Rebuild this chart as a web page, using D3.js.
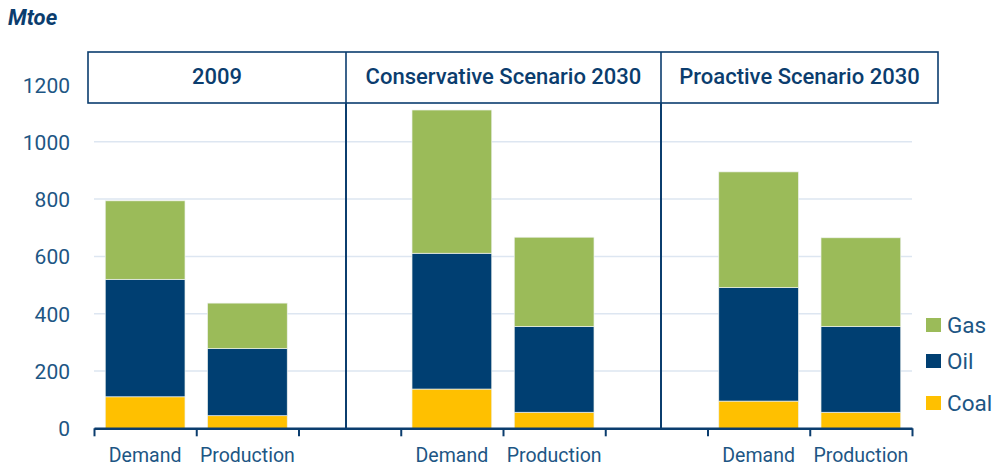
<!DOCTYPE html>
<html><head><meta charset="utf-8">
<script src="https://cdn.jsdelivr.net/npm/d3@7"></script>
<style>body{margin:0;background:#fff;} svg{display:block;font-family:Roboto, sans-serif;}</style>
</head><body><svg id="c" width="1005" height="467"></svg>
<script>
const categories = ["Demand", "Production", "", "Demand", "Production", "", "Demand", "Production"];
const groups = ["2009", "Conservative Scenario 2030", "Proactive Scenario 2030"];
const seriesNames = ["Coal", "Oil", "Gas"];
const coal = [110, 44, null, 137, 56, null, 95, 56];
const oil  = [410, 234, null, 474, 299, null, 396, 299];
const gas  = [274, 159, null, 500, 312, null, 404, 310];
const yTicks = [0, 200, 400, 600, 800, 1000, 1200];
const colors = {Coal: "#ffc000", Oil: "#003f72", Gas: "#9bbb59"};

const svg = d3.select("#c");
const y0 = 428.3, yTop = 84.5;
const y = d3.scaleLinear().domain([0, 1200]).range([y0, yTop]);
const keys = categories.map((c, i) => i);
const x = d3.scaleBand().domain(keys).range([94, 912]).paddingInner(0.22).paddingOuter(0.11);
const xl = d3.scaleLinear().domain([0, categories.length]).range([94, 912]);

const textCol = "#1d5684";
const navy = "#0b3d6e";

// gridlines
svg.append("g").selectAll("line").data(yTicks.filter(v => v > 0)).join("line")
  .attr("x1", 94).attr("x2", 912).attr("y1", d => y(d)).attr("y2", d => y(d))
  .attr("stroke", "#dde6f1").attr("stroke-width", 1.5);

// y labels
svg.append("g").selectAll("text").data(yTicks).join("text")
  .attr("x", 70).attr("y", d => y(d) + 8).attr("text-anchor", "end")
  .attr("font-size", 21).attr("fill", textCol).text(d => d);

// stacked bars
const rows = keys.map(i => ({i, Coal: coal[i] || 0, Oil: oil[i] || 0, Gas: gas[i] || 0}));
const stack = d3.stack().keys(seriesNames)(rows);
svg.append("g").selectAll("g").data(stack).join("g").attr("fill", d => colors[d.key])
  .selectAll("rect").data(d => d.filter(p => p[1] > p[0])).join("rect")
  .attr("x", d => x(d.data.i)).attr("width", x.bandwidth())
  .attr("y", d => y(d[1])).attr("height", d => y(d[0]) - y(d[1]))
  .attr("stroke", "#eef2ee").attr("stroke-width", 0.7);

// dividers
[346, 661].forEach(px => svg.append("line").attr("x1", px).attr("x2", px).attr("y1", 103).attr("y2", y0)
  .attr("stroke", navy).attr("stroke-width", 2));

// x axis
const ax = svg.append("g").attr("transform", `translate(0,${y0})`)
  .call(d3.axisBottom(xl).tickValues(d3.range(categories.length + 1)).tickFormat("").tickSize(8).tickSizeOuter(0));
ax.select(".domain").attr("stroke", navy).attr("stroke-width", 2.5);
ax.selectAll(".tick line").attr("stroke", navy).attr("stroke-width", 2);

svg.append("g").selectAll("text").data(keys).join("text")
  .attr("x", i => x(i) + x.bandwidth() / 2).attr("y", 462).attr("text-anchor", "middle")
  .attr("font-size", 19.5).attr("fill", textCol).text(i => categories[i]);

// header box
const hb = [88, 346, 661, 938];
svg.append("rect").attr("x", hb[0]).attr("y", 52).attr("width", hb[3] - hb[0]).attr("height", 51)
  .attr("fill", "#fff").attr("stroke", navy).attr("stroke-width", 1.6);
svg.append("g").selectAll("text").data(groups).join("text")
  .attr("x", (d, i) => (hb[i] + hb[i + 1]) / 2).attr("y", 84).attr("text-anchor", "middle")
  .attr("font-size", 22).attr("font-weight", 500).attr("fill", navy).text(d => d);
[346, 661].forEach(px => svg.append("line").attr("x1", px).attr("x2", px).attr("y1", 52).attr("y2", 103)
  .attr("stroke", navy).attr("stroke-width", 1.6));

// unit label
svg.append("text").attr("x", 8).attr("y", 25).attr("font-size", 22).attr("font-weight", "bold")
  .attr("font-style", "italic").attr("fill", navy).text("Mtoe");

// legend
const legend = ["Gas", "Oil", "Coal"];
const ly = [318, 354, 396];
const lg = svg.append("g").selectAll("g").data(legend).join("g")
  .attr("transform", (d, i) => `translate(926,${ly[i]})`);
lg.append("rect").attr("width", 15).attr("height", 14).attr("fill", d => colors[d]);
lg.append("text").attr("x", 21).attr("y", 14.5).attr("font-size", 22.5).attr("fill", textCol).text(d => d);
</script></body></html>
